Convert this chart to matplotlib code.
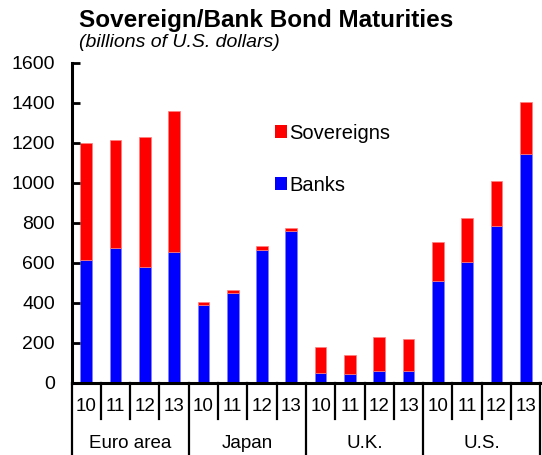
import matplotlib
matplotlib.use("Agg")
import matplotlib.pyplot as plt
from matplotlib.patches import Patch
import numpy as np

plt.rcParams['font.family'] = ['Liberation Sans', 'DejaVu Sans']

groups = ["Euro area", "Japan", "U.K.", "U.S."]
years = ["10", "11", "12", "13"]
banks = [615, 675, 577, 655,
         390, 450, 665, 760,
         50, 42, 60, 60,
         508, 605, 782, 1142]
totals = [1200, 1212, 1230, 1357,
          403, 463, 683, 773,
          178, 138, 227, 217,
          703, 822, 1007, 1405]
sovereigns = [t - b for t, b in zip(totals, banks)]

RED = "#FF0000"
BLUE = "#0000FF"

fig = plt.figure(figsize=(5.42, 4.55), dpi=100)
ax = fig.add_axes([0.132, 0.159, 0.865, 0.703])

n = len(banks)
x = np.arange(n) + 0.5
w = 0.4
ax.bar(x, banks, w, color=BLUE, edgecolor="#8080FF", linewidth=0.5, label="Banks")
ax.bar(x, sovereigns, w, bottom=banks, color=RED, edgecolor="#FF8080", linewidth=0.5, label="Sovereigns")

ax.set_xlim(0, n)
ax.set_ylim(0, 1600)
ax.set_yticks(np.arange(0, 1601, 200))
ax.tick_params(axis='y', direction='in', length=6, width=2, labelsize=14, pad=12)
ax.set_xticks([])
for s in ["top", "right"]:
    ax.spines[s].set_visible(False)
ax.spines["left"].set_linewidth(2.2)
ax.spines["bottom"].set_linewidth(2.2)

trans = ax.get_xaxis_transform()
for i in range(n + 1):
    if i % 4 == 0:
        ax.plot([i, i], [0, -0.24], transform=trans, color="black", lw=1.6, clip_on=False)
    else:
        ax.plot([i, i], [0, -0.1125], transform=trans, color="black", lw=1.6, clip_on=False)
for i in range(n):
    ax.text(i + 0.5, -0.075, years[i % 4], transform=trans, ha="center", va="center", fontsize=13.5)
for g, name in enumerate(groups):
    ax.text(g * 4 + 2, -0.19, name, transform=trans, ha="center", va="center", fontsize=13.5)

handles = [Patch(facecolor=RED, edgecolor="none"), Patch(facecolor=BLUE, edgecolor="none")]
ax.legend(handles, ["Sovereigns", "Banks"], loc="upper left", bbox_to_anchor=(0.4335, 0.809),
          frameon=False, fontsize=14.5, handlelength=0.6, handleheight=0.6,
          handletextpad=0.12, labelspacing=1.62, borderaxespad=0, borderpad=0)

fig.text(0.145, 0.941, "Sovereign/Bank Bond Maturities", fontsize=17.5, fontweight="bold", ha="left", va="baseline")
fig.text(0.146, 0.896, "(billions of U.S. dollars)", fontsize=14, fontstyle="italic", ha="left", va="baseline")

fig.savefig("out.png", dpi=100)
